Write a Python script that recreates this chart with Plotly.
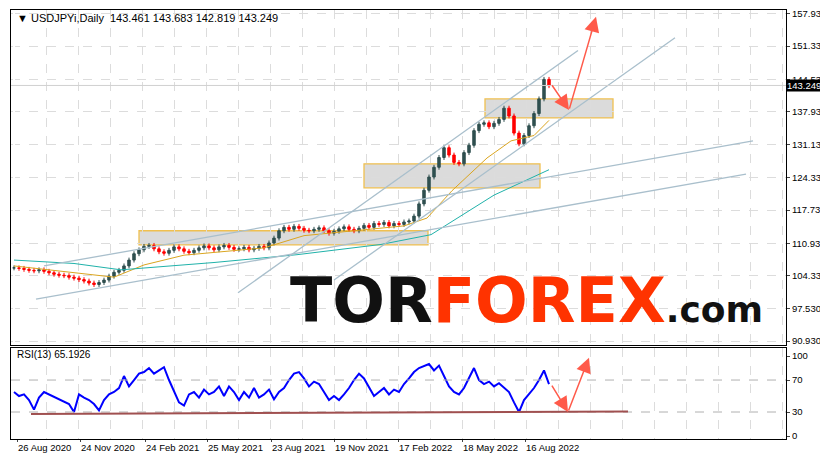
import plotly.graph_objects as go

# ---------- data ----------
x_ticks = [3, 66, 131, 193, 257, 320, 384, 448, 511]
x_labels = ["26 Aug 2020", "24 Nov 2020", "24 Feb 2021", "25 May 2021", "23 Aug 2021",
            "19 Nov 2021", "17 Feb 2022", "18 May 2022", "16 Aug 2022"]
price_ticks = [157.93, 151.33, 144.53, 137.93, 131.13, 124.33, 117.73, 110.93, 104.33, 97.53, 90.93]
rsi_ticks = [100, 70, 30, 0]

closes = [105.9, 105.8, 105.6, 105.4, 105.3, 105.5, 105.2,
          104.9, 104.6, 104.4, 104.3, 104.0, 103.8, 103.5, 103.2, 102.8, 102.5, 102.9, 103.4,
          104.2, 105.0, 105.4, 106.3, 107.5, 108.8, 109.6, 110.3,
          110.5, 109.8, 109.2, 108.9, 109.5, 110.2, 109.8, 109.3, 109.0, 109.5, 110.0, 110.4,
          110.0, 109.6, 110.2, 110.5, 110.1, 109.7, 109.8, 110.1, 109.6, 109.9, 110.3, 110.0,
          111.0, 112.0, 113.5, 114.2, 113.8, 114.4, 114.0, 113.6,
          113.5, 113.8, 114.1, 113.5, 113.0, 113.4, 113.9, 114.3, 113.8, 113.5, 114.0, 114.6,
          114.2, 115.0, 114.8, 115.2, 114.5, 115.0, 114.8, 115.3, 115.5,
          116.5, 119.0, 121.8, 124.5, 126.5, 128.5, 130.5, 129.0, 127.5, 127.2, 129.5, 131.0,
          134.0, 135.3, 135.6, 134.8, 135.5, 136.3, 138.6, 137.0, 133.5, 131.3, 133.0, 135.0,
          137.5, 140.5, 144.5, 143.2]
bar_x = [5 * i for i in range(len(closes))]

rsi = [55, 50, 52, 45, 33, 48, 55, 52, 50, 47, 44, 40, 30, 52, 48, 45, 40, 32, 45,
       52, 55, 60, 75, 62, 70, 78, 80,
       85, 78, 82, 86, 70, 55, 42, 38,
       52, 55, 48, 58, 52, 55, 62, 50, 62, 55, 45, 55, 48, 60, 48, 52, 58, 46, 55, 60,
       70, 78, 80, 72, 62, 68, 65, 55, 45, 50,
       45, 52, 60, 70, 78, 72, 60, 50, 55, 60,
       52, 58, 55, 65, 72,
       80, 85, 88, 90, 82, 88, 75, 62, 55, 52,
       60, 72, 85, 70, 65, 68, 62, 66, 60, 55,
       42, 30, 45, 52, 60, 70, 82, 65]

ma_fast_x = [0, 60, 100, 130, 170, 250, 290, 390, 413, 438, 473, 497, 520, 535]
ma_fast = [106.3, 105.0, 104.0, 106.5, 108.5, 110.0, 112.5, 114.5, 116.1, 121.7, 128.4, 131.9, 133.0, 136.1]
ma_slow_x = [0, 60, 107, 200, 283, 367, 417, 480, 535]
ma_slow = [107.5, 106.8, 105.5, 107.0, 108.6, 110.7, 112.7, 120.8, 126.0]

# trend lines (x0, p0, x1, p1)
channels = [(22, 99.5, 732, 125.1), (30, 106.3, 739, 131.9),
            (224, 100.8, 564, 150.4), (320, 103.4, 661, 153.0)]
zones = [(125, 110.6, 414, 113.5), (350, 122.3, 526, 127.2), (471, 136.6, 599, 140.5)]

opens = [closes[0]] + closes[:-1]
highs = [max(o, c) + 0.5 for o, c in zip(opens, closes)]
lows = [min(o, c) - 0.5 for o, c in zip(opens, closes)]

fig = go.Figure()
fig.add_trace(go.Candlestick(x=bar_x, open=opens, high=highs, low=lows, close=closes,
                             xaxis="x2", yaxis="y", whiskerwidth=0,
                             increasing=dict(line=dict(color="#2F4F4F", width=1), fillcolor="#2F4F4F"),
                             decreasing=dict(line=dict(color="#FF0000", width=1), fillcolor="#FF0000"),
                             showlegend=False))
fig.add_trace(go.Scatter(x=ma_fast_x, y=ma_fast, mode="lines", line=dict(color="#DAA520", width=1),
                         xaxis="x2", yaxis="y", showlegend=False))
fig.add_trace(go.Scatter(x=ma_slow_x, y=ma_slow, mode="lines", line=dict(color="#20B2AA", width=1),
                         xaxis="x2", yaxis="y", showlegend=False))
fig.add_trace(go.Scatter(x=bar_x, y=rsi, mode="lines", line=dict(color="#0000FF", width=2),
                         xaxis="x", yaxis="y2", showlegend=False))

shapes = []
for x0, p0, x1, p1 in channels:
    shapes.append(dict(type="line", xref="x2", yref="y", x0=x0, y0=p0, x1=x1, y1=p1,
                       line=dict(color="#A9BFCC", width=1.3)))
for x0, p0, x1, p1 in zones:
    shapes.append(dict(type="rect", xref="x2", yref="y", x0=x0, y0=p0, x1=x1, y1=p1,
                       fillcolor="rgba(190,190,190,0.55)", line=dict(color="#F0C050", width=1.3),
                       layer="below"))
shapes.append(dict(type="line", xref="paper", yref="y", x0=0, x1=1, y0=143.249, y1=143.249,
                   line=dict(color="#D0D0D0", width=1)))
for lvl in [70, 30]:
    shapes.append(dict(type="line", xref="paper", yref="y2", x0=0, x1=1, y0=lvl, y1=lvl,
                       line=dict(color="#B0B0B0", width=1, dash="dash")))
shapes.append(dict(type="line", xref="x", yref="y2", x0=17, y0=27.5, x1=614, y1=30.5,
                   line=dict(color="#A05050", width=2)))
fig.update_layout(shapes=shapes)

arr = "#FF5A4A"
anns = [
    dict(x=555, y=138.2, ax=537, ay=143.6, xref="x2", yref="y", axref="x2", ayref="y"),
    dict(x=582, y=157.3, ax=555, ay=138.2, xref="x2", yref="y", axref="x2", ayref="y"),
    dict(x=554, y=30, ax=537, ay=65, xref="x", yref="y2", axref="x", ayref="y2"),
    dict(x=575, y=98, ax=554, ay=30, xref="x", yref="y2", axref="x", ayref="y2"),
]
for a in anns:
    a.update(showarrow=True, arrowhead=2, arrowsize=2, arrowwidth=1.5, arrowcolor=arr, text="")
anns += [
    dict(x=0.005, y=1, xref="paper", yref="paper", xanchor="left", yanchor="top", showarrow=False,
         text="▼ USDJPYi,Daily  143.461 143.683 142.819 143.249",
         font=dict(size=11, color="black", family="Liberation Sans")),
    dict(x=0.005, y=0.214, xref="paper", yref="paper", xanchor="left", yanchor="top", showarrow=False,
         text="RSI(13) 65.1926", font=dict(size=10, color="black", family="Liberation Sans")),
    dict(x=1.0, y=143.249, xref="paper", yref="y", xanchor="left", yanchor="middle", showarrow=False,
         text="143.249", bgcolor="black", borderpad=0,
         font=dict(size=9.5, color="white", family="Liberation Sans")),
    dict(x=512, y=99.2, xref="x2", yref="y", xanchor="center", yanchor="middle", showarrow=False,
         text="<b>TOR<span style='color:#FF3300'>FOREX</span><span style='font-size:36px'>.com</span></b>",
         font=dict(size=62, color="#111111", family="DejaVu Sans")),
]
fig.update_layout(annotations=anns)

vgrid = dict(tickmode="linear", tick0=32, dtick=32, showgrid=True, gridcolor="#DCDCDC",
             griddash="dash", ticks="")
fig.update_layout(
    width=828, height=455, margin=dict(l=3, r=50, t=2, b=24),
    paper_bgcolor="white", plot_bgcolor="white", showlegend=False,
    xaxis=dict(domain=[0, 1], anchor="y2", range=[-3, 772], tickmode="array", tickvals=x_ticks,
               ticktext=x_labels, ticks="outside", ticklen=2, showline=True, linecolor="black",
               mirror=True, rangeslider=dict(visible=False), showgrid=False, tickangle=0,
               automargin=False, ticklabelposition="outside right", minor=vgrid,
               tickfont=dict(size=9.5, family="Liberation Sans", color="black")),
    xaxis2=dict(domain=[0, 1], anchor="y", matches="x", showticklabels=False, showline=True,
                linecolor="black", mirror=True, rangeslider=dict(visible=False), showgrid=False,
                automargin=False, minor=vgrid),
    yaxis=dict(domain=[0.219, 1], range=[90.1, 158.7], side="right", tickmode="array",
               tickvals=price_ticks, ticktext=[f"{v:.3f}" for v in price_ticks], ticks="outside",
               ticklen=3, showline=True, linecolor="black", mirror=True, automargin=False,
               showgrid=True, gridcolor="#DCDCDC", griddash="dash",
               tickfont=dict(size=9.5, family="Liberation Sans", color="black")),
    yaxis2=dict(domain=[0, 0.212], range=[-3.75, 110], side="right", tickmode="array",
                tickvals=rsi_ticks, ticks="outside", ticklen=3, showline=True, linecolor="black",
                mirror=True, showgrid=False, automargin=False,
                tickfont=dict(size=9.5, family="Liberation Sans", color="black")),
)
fig.write_html("out.html")
